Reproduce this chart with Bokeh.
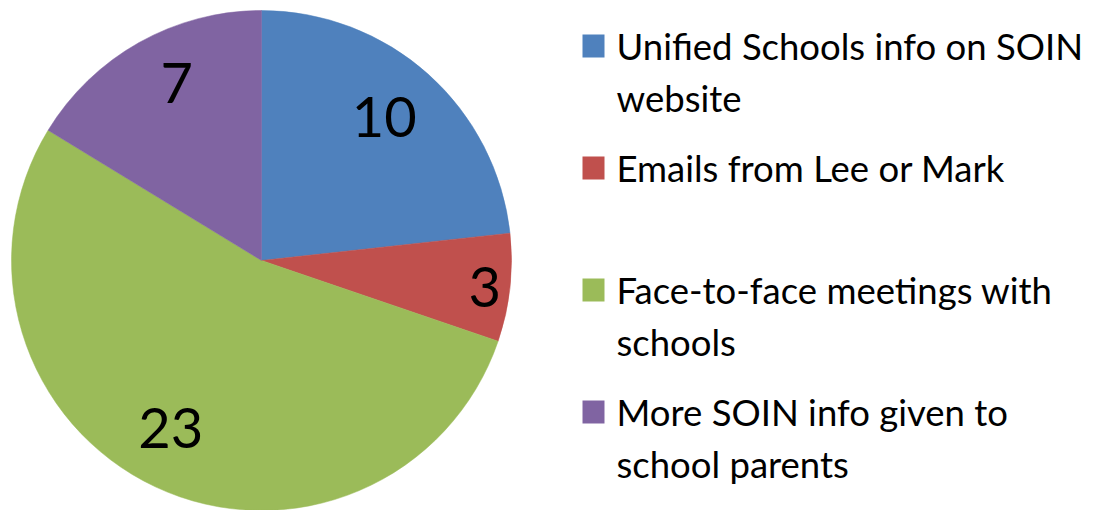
import math
from bokeh.plotting import figure
from bokeh.models import ColumnDataSource, Range1d
from bokeh.core.properties import value
from bokeh.embed import file_html
from bokeh.resources import INLINE

# ---- data ----
categories = [
    "Unified Schools info on SOIN website",
    "Emails from Lee or Mark",
    "Face-to-face meetings with schools",
    "More SOIN info given to school parents",
]
legend_lines = [
    ["Unified Schools info on SOIN", "website"],
    ["Emails from Lee or Mark"],
    ["Face-to-face meetings with", "schools"],
    ["More SOIN info given to", "school parents"],
]
counts = [10, 3, 23, 7]
colors = ["#4F81BD", "#C0504D", "#9BBB59", "#8064A2"]

# ---- layout (pixels) ----
W, H = 1117, 510
FONT = "Lato"
cx, cy, R = 261, 250, 250
label_r = [0.75, 0.9, 0.77, 0.78]
label_da = [1.0, -1.0, -3.0, -3.5]  # small angular nudges (degrees)

p = figure(width=W, height=H, output_backend="svg", toolbar_location=None,
           x_range=Range1d(0, W), y_range=Range1d(0, H), min_border=0)
p.axis.visible = False
p.grid.visible = False
p.outline_line_color = None
p.background_fill_color = "white"

total = sum(counts)
starts, ends, lx, ly = [], [], [], []
a = math.pi / 2
for i, c in enumerate(counts):
    sweep = 2 * math.pi * c / total
    starts.append(a)
    ends.append(a - sweep)
    mid = a - sweep / 2 + math.radians(label_da[i])
    lx.append(cx + label_r[i] * R * math.cos(mid))
    ly.append(cy + label_r[i] * R * math.sin(mid) + 2)
    a -= sweep

src = ColumnDataSource(dict(x=[cx] * 4, y=[cy] * 4, s=starts, e=ends, color=colors,
                            lx=lx, ly=ly, txt=[str(c) for c in counts]))
p.wedge(x="x", y="y", radius=R, start_angle="s", end_angle="e", direction="clock",
        fill_color="color", line_color="color", line_width=0.5, source=src)
p.text(x="lx", y="ly", text="txt", source=src, text_font=value(FONT),
       text_font_size="56px", text_align="center", text_baseline="middle", text_color="black")

# legend
sq_x, txt_x = 593, 616
base0, step, line_gap = 452, -122, 52
sx, sy, tx, ty, tt = [], [], [], [], []
for i, lines in enumerate(legend_lines):
    b = base0 + i * step
    sx.append(sq_x)
    sy.append(b + 12.5)
    for j, ln in enumerate(lines):
        tx.append(txt_x)
        ty.append(b + 13 - j * line_gap)
        tt.append(ln)
p.rect(x=sx, y=sy, width=22, height=23, fill_color=colors, line_color=None)
p.text(x=tx, y=ty, text=tt, text_font=value(FONT), text_font_size="36.5px",
       text_align="left", text_baseline="alphabetic", text_color="black")

open("out.html", "w").write(file_html(p, INLINE))
